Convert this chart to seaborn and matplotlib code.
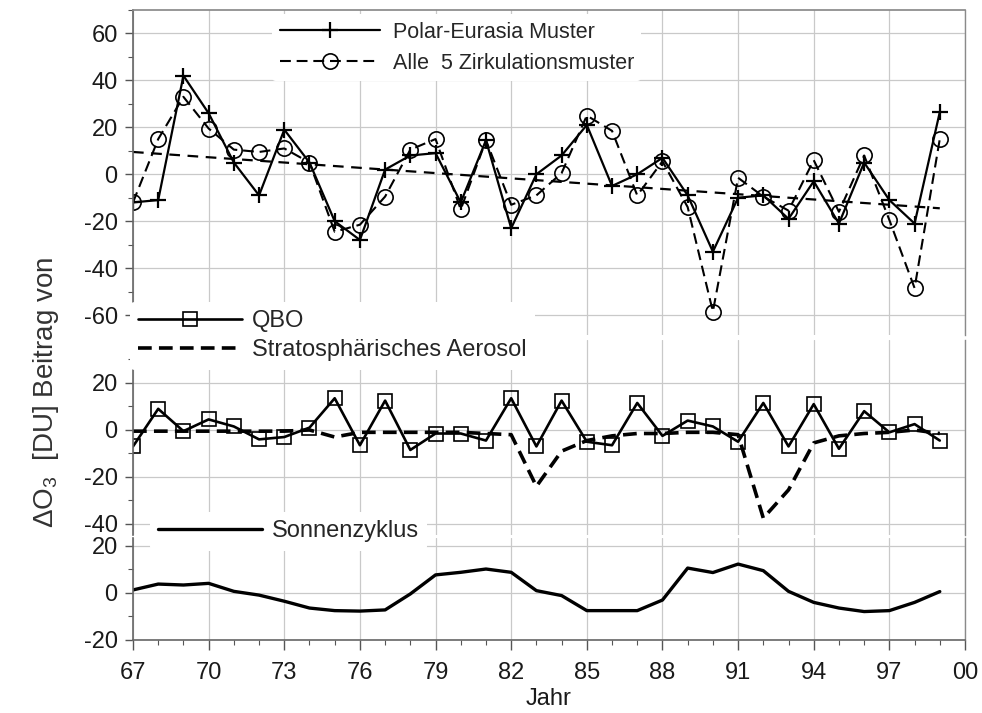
import matplotlib
matplotlib.use("Agg", force=True)
import matplotlib.pyplot as plt
import numpy as np
import seaborn as sns

YEARS = list(range(1967, 2000))

# Top panel: circulation patterns
POLAR_EURASIA = [-12, -11, 42, 26, 5, -9, 19, 5, -20, -28, 2, 8, 9, -12, 14.5, -23,
                 0, 8, 21, -5, 0, 7, -9, -33, -10, -9, -19, -3, -21, 5, -11, -21, 26.5]
ALLE_5 = [-12, 15, 33, 19.5, 10.5, 9.5, 11, 5, -24.5, -21.5, -9.5, 10.5, 15, -15, 14.5, -13,
          -9, 0.5, 25, 18.5, -9, 5.5, -14, -58.5, -1.5, -9.5, -15.5, 6, -16, 8, -19.5, -48.5, 15]
TREND_YEARS = [1967, 1999]
TREND = [9.5, -14.5]

# Middle panel: QBO and aerosol
QBO = [-7, 9, -0.5, 4.5, 1.5, -4, -3, 1, 13.5, -6.5, 12.5, -8.5, -1.5, -1.5, -4.5, 13.5,
       -7, 12.5, -5, -6.5, 11.5, -2.5, 4, 1.5, -5, 11.5, -7, 11, -8, 8, -1, 2.5, -4.5]
AEROSOL = [-0.5, -0.5, -0.5, -0.5, -0.5, -0.5, -0.5, 0, -3, -1, -1, -1, -1, -1, -1.5, -2,
           -24, -9, -4.5, -2.5, -1.5, -1.5, -1, -1, -2, -37.5, -25.5, -5.5, -2.5, -1.5, -1, 0, -1.5]

# Bottom panel: solar cycle
SONNE = [1.3, 3.8, 3.4, 4.1, 0.7, -0.9, -3.5, -6.4, -7.5, -7.7, -7.2, -0.4, 7.7, 8.8, 10.2, 8.8,
         1.0, -1.1, -7.5, -7.5, -7.5, -3, 10.6, 8.7, 12.3, 9.5, 0.7, -4, -6.4, -7.9, -7.5, -4, 0.6]

sns.set_theme(style="white")
plt.rcParams["font.family"] = ["Liberation Sans", "DejaVu Sans"]
plt.rcParams["mathtext.fontset"] = "custom"
plt.rcParams["mathtext.rm"] = "Liberation Sans"
plt.rcParams["mathtext.it"] = "Liberation Sans:italic"
plt.rcParams["axes.unicode_minus"] = False

W, H = 982, 713
fig = plt.figure(figsize=(W / 100, H / 100), dpi=100)


def px_axes(top, bottom, left=133, right=965):
    return fig.add_axes([left / W, 1 - bottom / H, (right - left) / W, (bottom - top) / H])


ax_top = px_axes(10, 335)
ax_mid = px_axes(340, 535)
ax_bot = px_axes(538, 640)

GRID = "#c9c9c9"
TXT = "#1a1a1a"
TICK_FS = 17

# top panel
sns.lineplot(x=YEARS, y=POLAR_EURASIA, ax=ax_top, color="black", linewidth=1.6,
             marker="+", markersize=12, markeredgewidth=1.6, markeredgecolor="black",
             label="Polar-Eurasia Muster")
sns.lineplot(x=YEARS, y=ALLE_5, ax=ax_top, color="black", linewidth=1.5,
             marker="o", markersize=11, markeredgewidth=1.2, markeredgecolor="black",
             markerfacecolor="none", label="Alle  5 Zirkulationsmuster")
ax_top.lines[-1].set_dashes((5.2, 2.8))
sns.lineplot(x=TREND_YEARS, y=TREND, ax=ax_top, color="black", linewidth=1.6)
ax_top.lines[-1].set_dashes((4.8, 3.4))

# middle panel
sns.lineplot(x=YEARS, y=QBO, ax=ax_mid, color="black", linewidth=1.9,
             marker="s", markersize=9.5, markeredgewidth=1.2, markeredgecolor="black",
             markerfacecolor="none", label="QBO")
sns.lineplot(x=YEARS, y=AEROSOL, ax=ax_mid, color="black", linewidth=2.6,
             label="Stratosphärisches Aerosol")
ax_mid.lines[-1].set_dashes((3.8, 2.0))

# bottom panel
sns.lineplot(x=YEARS, y=SONNE, ax=ax_bot, color="black", linewidth=2.4, label="Sonnenzyklus")

limits = {ax_top: (-68.5, 70), ax_mid: (-44.7, 38.3), ax_bot: (-20, 23.4)}
majors = {ax_top: range(-60, 61, 20), ax_mid: range(-40, 21, 20), ax_bot: range(-20, 21, 20)}
minors = {ax_top: range(-60, 71, 10), ax_mid: range(-40, 31, 10), ax_bot: range(-20, 21, 10)}

for ax in (ax_top, ax_mid, ax_bot):
    if ax.get_legend() is not None:
        ax.get_legend().remove()
    ax.set_xlim(1967, 2000)
    ax.set_ylim(*limits[ax])
    ax.set_yticks(list(majors[ax]))
    ax.set_yticks(list(minors[ax]), minor=True)
    ax.set_xticks(list(range(1967, 2001, 3)))
    ax.set_xticks(list(range(1967, 2001)), minor=True)
    ax.grid(True, which="major", color=GRID, linewidth=0.9)
    ax.set_axisbelow(True)
    ax.set_xlabel("")
    ax.set_ylabel("")
    ax.tick_params(axis="y", which="major", direction="out", length=6, width=1,
                   color="#555555", labelsize=TICK_FS, labelcolor=TXT, pad=5, left=True)
    ax.tick_params(axis="y", which="minor", direction="out", length=3.5, width=0.8,
                   color="#555555", left=True)
    for side in ("top", "bottom"):
        ax.spines[side].set_visible(False)
    ax.spines["left"].set_color("#666666")
    ax.spines["left"].set_linewidth(1.2)
    ax.spines["right"].set_color("#8a8a8a")
    ax.spines["right"].set_linewidth(1.0)
    if ax is not ax_bot:
        ax.tick_params(axis="x", which="both", bottom=False, labelbottom=False)

ax_top.spines["top"].set_visible(True)
ax_top.spines["top"].set_color("#8a8a8a")
ax_bot.spines["bottom"].set_visible(True)
ax_bot.spines["bottom"].set_color("#666666")
ax_bot.spines["bottom"].set_linewidth(1.2)
ax_bot.tick_params(axis="x", which="major", direction="out", length=7, width=1,
                   color="#555555", labelsize=TICK_FS, labelcolor=TXT, pad=9, bottom=True)
ax_bot.tick_params(axis="x", which="minor", direction="out", length=3.5, width=0.8,
                   color="#555555", bottom=True)
ax_bot.set_xticklabels([f"{y % 100:02d}" for y in range(1967, 2001, 3)])
ax_bot.set_xlabel("Jahr", fontsize=TICK_FS, color=TXT, labelpad=3)

fig.text(46 / W, 1 - 392 / H, "ΔO$_3$  [DU] Beitrag von", rotation=90, ha="center",
         va="center", fontsize=20, color="#333333")

legend_kw = dict(frameon=True, facecolor="white", edgecolor="none", framealpha=1.0,
                 borderpad=0.35, borderaxespad=0, loc="upper left")
fig.legend(handles=ax_top.lines[:2], labels=["Polar-Eurasia Muster", "Alle  5 Zirkulationsmuster"],
           bbox_to_anchor=(272 / W, 1 - 14 / H), fontsize=15.5, handlelength=4.65,
           handletextpad=0.6, labelspacing=0.47, **legend_kw)
fig.legend(handles=ax_mid.lines[:2], labels=["QBO", "Stratosphärisches Aerosol"],
           bbox_to_anchor=(130 / W, 1 - 302 / H), fontsize=17, handlelength=4.4,
           handletextpad=0.42, labelspacing=0.3, **legend_kw)
fig.legend(handles=ax_bot.lines[:1], labels=["Sonnenzyklus"],
           bbox_to_anchor=(150 / W, 1 - 512 / H), fontsize=17, handlelength=4.4,
           handletextpad=0.42, **legend_kw)

fig.savefig("out.png", dpi=100)
plt.close(fig)
